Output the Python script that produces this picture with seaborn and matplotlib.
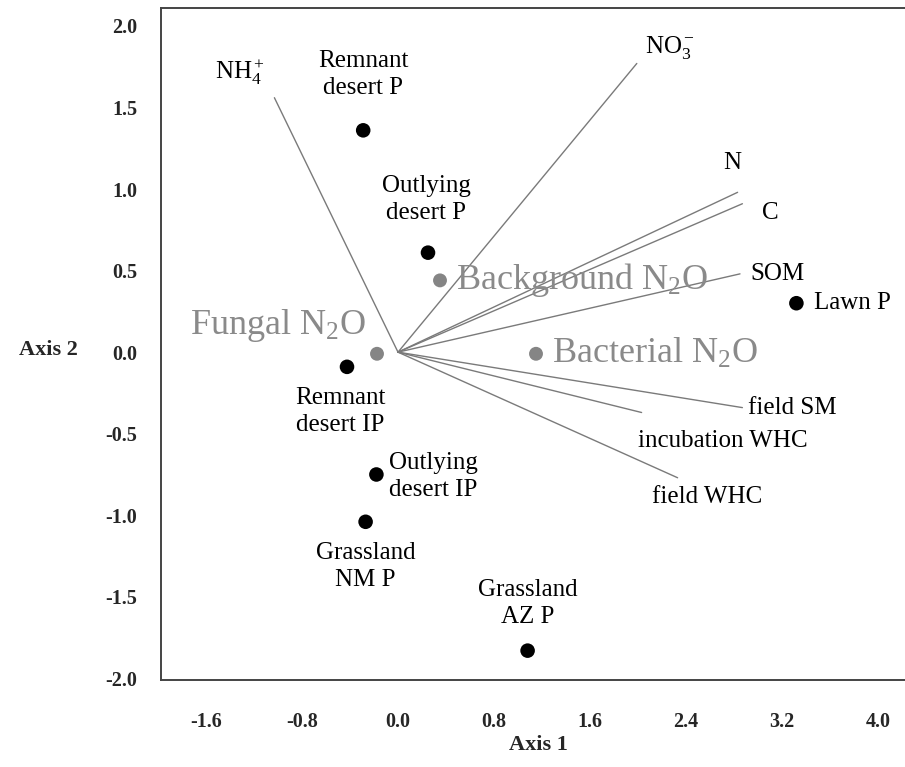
import numpy as np
import pandas as pd
import matplotlib
matplotlib.use("Agg")
import matplotlib.pyplot as plt
import seaborn as sns

# ---- data ----
site_names = ["Remnant\ndesert P", "Outlying\ndesert P", "Lawn P", "Remnant\ndesert IP",
              "Outlying\ndesert IP", "Grassland\nNM P", "Grassland\nAZ P"]
site_x = [-0.29, 0.25, 3.32, -0.425, -0.18, -0.27, 1.08]
site_y = [1.36, 0.61, 0.30, -0.09, -0.75, -1.04, -1.83]

n2o_names = ["Background N$_2$O", "Fungal N$_2$O", "Bacterial N$_2$O"]
n2o_x = [0.35, -0.175, 1.15]
n2o_y = [0.44, -0.01, -0.01]

vec_names = ["NH$_4^+$", "NO$_3^-$", "N", "C", "SOM", "field SM", "incubation WHC", "field WHC"]
vec_x = [-1.03, 1.99, 2.83, 2.87, 2.85, 2.87, 2.03, 2.33]
vec_y = [1.56, 1.77, 0.98, 0.91, 0.48, -0.34, -0.37, -0.77]

xticks = [-1.6, -0.8, 0.0, 0.8, 1.6, 2.4, 3.2, 4.0]
yticks = [-2.0, -1.5, -1.0, -0.5, 0.0, 0.5, 1.0, 1.5, 2.0]

# ---- style ----
sns.set_theme(style="white")
plt.rcParams["font.family"] = ["Liberation Serif", "DejaVu Serif"]
plt.rcParams["mathtext.fontset"] = "custom"
plt.rcParams["mathtext.rm"] = "Liberation Serif"
plt.rcParams["mathtext.it"] = "Liberation Serif:italic"
plt.rcParams["mathtext.bf"] = "Liberation Serif:bold"

fig = plt.figure(figsize=(9.05, 7.67), dpi=100)
ax = fig.add_axes([161/905, 1-680/767, 1-161/905, (680-8)/767])

# vectors
for vx, vy in zip(vec_x, vec_y):
    ax.plot([0, vx], [0, vy], color="#7a7a7a", lw=1.0, zorder=1)

sites = pd.DataFrame({"x": site_x, "y": site_y, "name": site_names})
n2o = pd.DataFrame({"x": n2o_x, "y": n2o_y, "name": n2o_names})
sns.scatterplot(data=sites, x="x", y="y", color="black", s=110, edgecolor="none", ax=ax, zorder=3)
sns.scatterplot(data=n2o, x="x", y="y", color="#858585", s=100, edgecolor="none", ax=ax, zorder=3)

k = 0.72  # px -> pt
site_off = [(0, 56, "center"), (-2, 53, "center"), (18, 0, "left"), (-7, -45, "center"),
            (13, -2, "left"), (0, -45, "center"), (0, 47, "center")]
for (nm, x, y), (dx, dy, ha) in zip(zip(site_names, site_x, site_y), site_off):
    ax.annotate(nm, (x, y), xytext=(dx*k, dy*k), textcoords="offset points",
                ha=ha, va="center", fontsize=18, color="black", linespacing=1.3,
                multialignment="center" if ha == "center" else "left")

n2o_off = [(16, 0, "left"), (-11, 28, "right"), (16, 0, "left")]
for (nm, x, y), (dx, dy, ha) in zip(zip(n2o_names, n2o_x, n2o_y), n2o_off):
    ax.annotate(nm, (x, y), xytext=(dx*k, dy*k), textcoords="offset points",
                ha=ha, va="center", fontsize=26, color="#8a8a8a")

vec_off = [(-34, 25), (33, 16), (-5, 29), (28, -9), (37, 0), (50, 0), (81, -28), (30, -19)]
for (nm, x, y), (dx, dy) in zip(zip(vec_names, vec_x, vec_y), vec_off):
    ax.annotate(nm, (x, y), xytext=(dx*k, dy*k), textcoords="offset points",
                ha="center", va="center", fontsize=18, color="black")

ax.set_xlim(-1.975, 4.225)
ax.set_ylim(-2.01, 2.11)
ax.set_xticks(xticks)
ax.set_yticks(yticks)
ax.set_xticklabels([f"{t:.1f}" for t in xticks], fontsize=14.5, fontweight="bold")
ax.set_yticklabels([f"{t:.1f}" for t in yticks], fontsize=14.5, fontweight="bold")
ax.tick_params(axis="x", length=0, pad=23)
ax.tick_params(axis="y", length=0, pad=17)
ax.set_xlabel("Axis 1", fontsize=16, fontweight="bold")
ax.set_ylabel("Axis 2", fontsize=16, fontweight="bold", rotation=0)
ax.xaxis.set_label_coords(0.507, -65/672, transform=ax.transAxes)
ax.yaxis.set_label_coords(-(161-48)/744, (680-350)/672, transform=ax.transAxes)
ax.yaxis.label.set_va("center")
ax.yaxis.label.set_ha("center")
ax.xaxis.label.set_va("center")

for side in ["left", "bottom", "top"]:
    ax.spines[side].set_color("#444444")
    ax.spines[side].set_linewidth(1.4)
ax.spines["right"].set_visible(False)
ax.grid(False)

fig.savefig("out.png", dpi=100)
